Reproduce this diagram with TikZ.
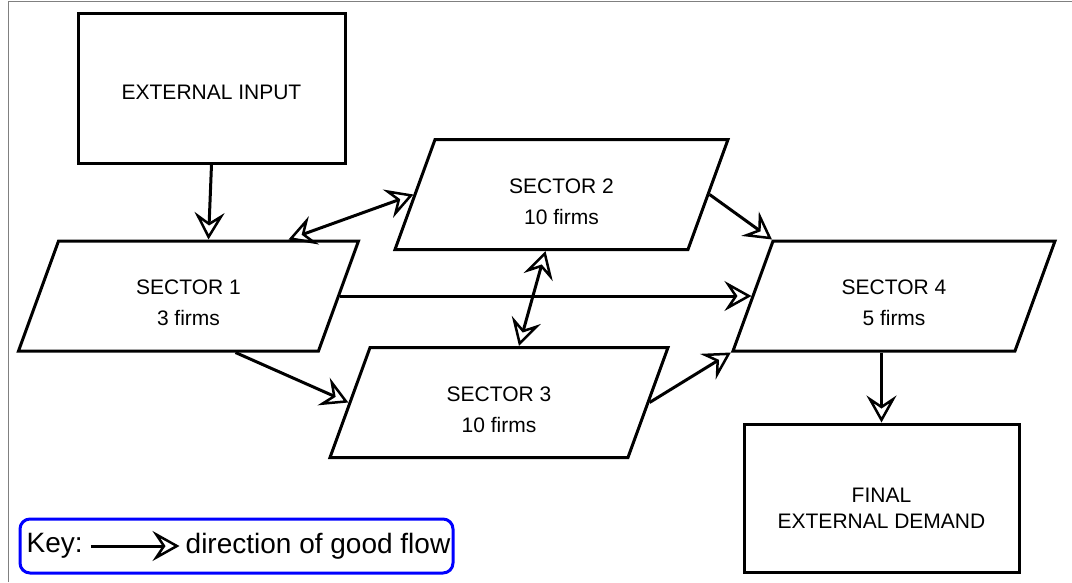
\documentclass[tikz,border=0pt]{standalone}
\usepackage{fontspec}
\setmainfont{Liberation Sans}
\usetikzlibrary{arrows.meta,positioning,shapes.geometric}

\begin{document}
\begin{tikzpicture}[x=1pt,y=-1pt,
    box/.style={draw,line width=3pt,inner sep=0pt},
    sector/.style={draw,line width=3pt,trapezium,trapezium left angle=70,
        trapezium right angle=110,trapezium stretches body,inner xsep=0pt,inner ysep=55pt},
    txt/.style={align=center,font=\fontsize{21}{31}\selectfont},
    flow/.style={line width=3pt,-{Stealth[open,length=27pt,width=30pt,inset=10pt,line width=2.5pt]}},
    both/.style={line width=3pt,{Stealth[open,length=27pt,width=30pt,inset=10pt,line width=2.5pt]}-{Stealth[open,length=27pt,width=30pt,inset=10pt,line width=2.5pt]}}]
    \useasboundingbox (0,0) rectangle (1072,582);
    % ram
    \draw[gray,line width=1pt] (8,582) -- (8,1.5) -- (1072,1.5);

    % vstup a poptavka
    \node[box,minimum width=267pt,minimum height=150pt,
        label={[txt,yshift=-4pt]center:EXTERNAL INPUT}] (ext) at (211.5,88) {};
    \node[box,minimum width=275pt,minimum height=148pt,
        label={[txt,font=\fontsize{21}{26}\selectfont,yshift=-10pt]center:{FINAL\\EXTERNAL DEMAND}}] (fin) at (881.5,498) {};

    % sektory
    \node[sector,minimum width=340pt,label={[txt,yshift=-7pt]center:{SECTOR 1\\3 firms}}] (s1) at (188.5,296) {};
    \node[sector,minimum width=333pt,label={[txt,yshift=-7pt]center:{SECTOR 2\\10 firms}}] (s2) at (561.5,194.5) {};
    \node[sector,minimum width=338pt,label={[txt,yshift=-7pt]center:{SECTOR 3\\10 firms}}] (s3) at (499,402.5) {};
    \node[sector,minimum width=322pt,label={[txt,yshift=-7pt]center:{SECTOR 4\\5 firms}}] (s4) at (894,296) {};

    % toky zbozi
    \draw[flow] (ext.south) -- ([xshift=20pt]s1.north);
    \draw[both] ([xshift=100pt]s1.north) -- (s2.west);
    \draw[both] ([xshift=-16pt]s2.south) -- ([xshift=20pt]s3.north);
    \draw[flow] (s1.east) -- (s4.west);
    \draw[flow] ([xshift=47pt]s1.south) -- (s3.west);
    \draw[flow] (s3.east) -- (s4.bottom left corner);
    \draw[flow] (s2.east) -- (s4.top left corner);
    \draw[flow] (s4.south -| fin.north) -- (fin.north);

    % legenda
    \node[draw=blue,line width=3pt,rounded corners=10pt,minimum width=433pt,minimum height=54pt] (key) at (236.5,546) {};
    \node[right=8pt of key.west,inner sep=0pt,font=\fontsize{28}{32}\selectfont] (keyl) {Key:};
    \node[left=4pt of key.east,inner sep=0pt,font=\fontsize{28}{32}\selectfont] (keyt) {direction of good flow};
    \draw[flow,shorten <=8pt,shorten >=6pt] (keyl.east) -- (keyt.west);
\end{tikzpicture}
\end{document}
